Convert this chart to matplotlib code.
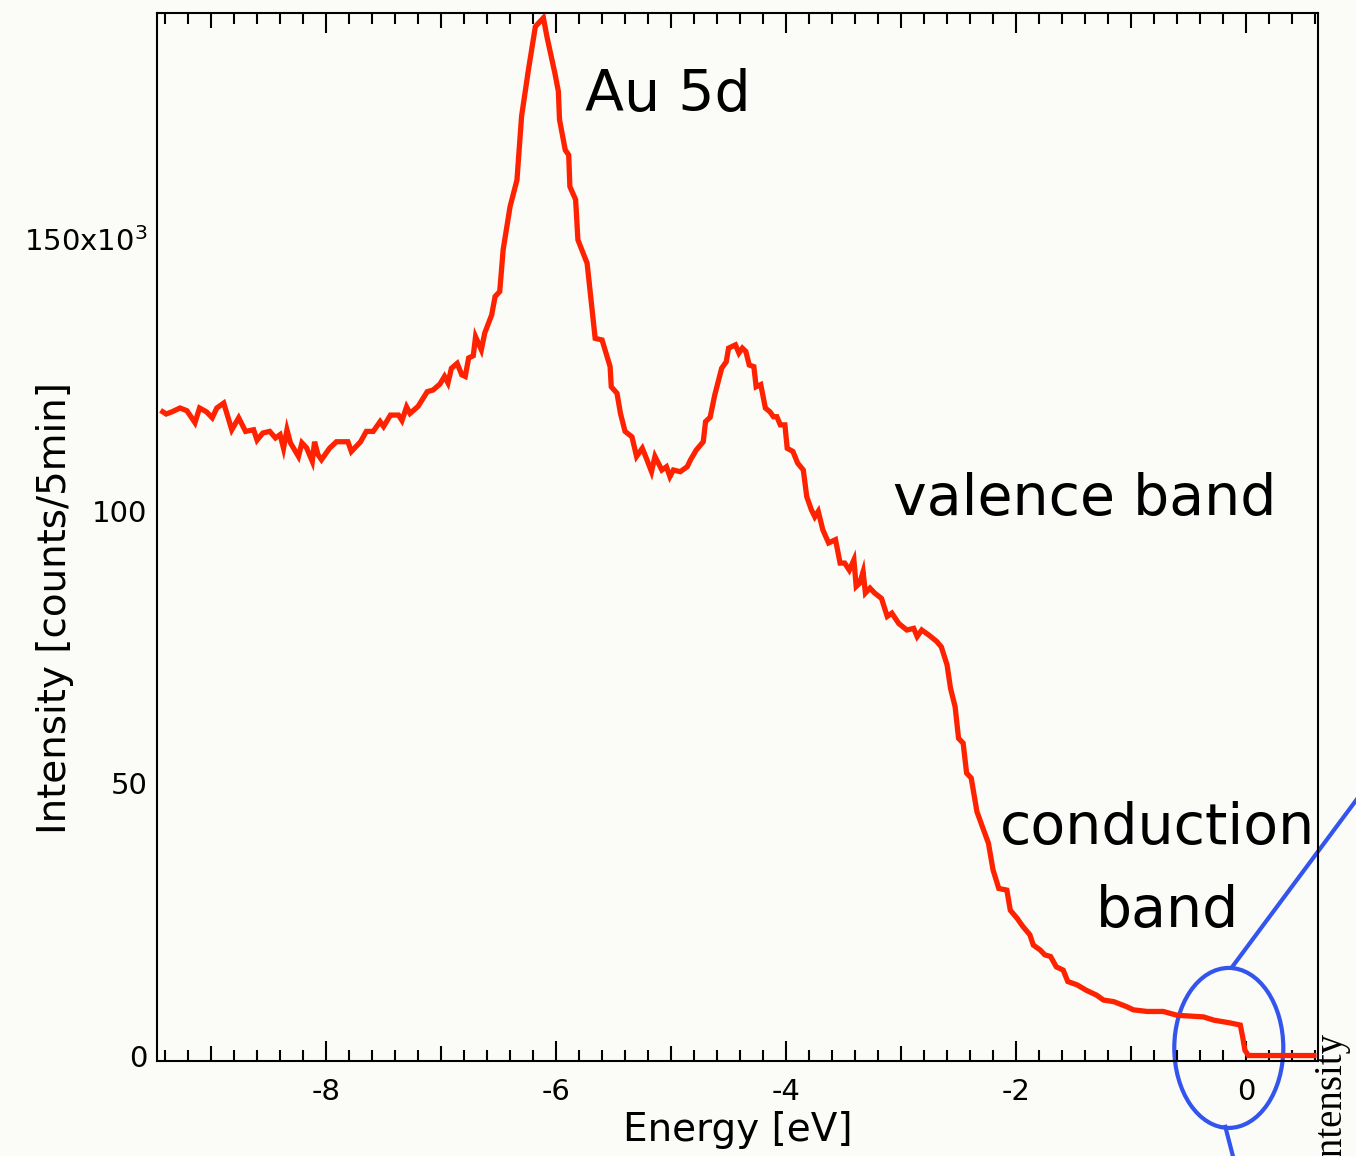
import matplotlib
matplotlib.use('Agg')
import matplotlib.pyplot as plt
from matplotlib.patches import Ellipse
from matplotlib.ticker import MultipleLocator, FuncFormatter

# photoemission spectrum: energy [eV], intensity [x10^3 counts/5min]
energy = [-9.42, -9.39, -9.34, -9.27, -9.21, -9.14, -9.10, -9.04, -8.99, -8.95,
          -8.89, -8.82, -8.76, -8.70, -8.63, -8.60, -8.55, -8.49, -8.44, -8.40,
          -8.37, -8.34, -8.31, -8.24, -8.21, -8.17, -8.12, -8.10, -8.07, -8.04,
          -7.97, -7.91, -7.81, -7.78, -7.70, -7.65, -7.59, -7.56, -7.53, -7.50,
          -7.44, -7.37, -7.34, -7.30, -7.27, -7.20, -7.12, -7.07, -7.01, -6.97,
          -6.94, -6.91, -6.86, -6.82, -6.79, -6.76, -6.72, -6.70, -6.65, -6.62,
          -6.56, -6.53, -6.49, -6.46, -6.40, -6.34, -6.30, -6.24, -6.18, -6.11,
          -6.08, -6.01, -5.98, -5.97, -5.92, -5.89, -5.88, -5.83, -5.81, -5.73,
          -5.66, -5.60, -5.53, -5.52, -5.47, -5.44, -5.40, -5.34, -5.30, -5.25,
          -5.21, -5.17, -5.14, -5.08, -5.04, -5.01, -4.98, -4.92, -4.86, -4.83,
          -4.78, -4.72, -4.70, -4.66, -4.62, -4.56, -4.52, -4.50, -4.44, -4.41,
          -4.38, -4.35, -4.32, -4.28, -4.26, -4.22, -4.18, -4.14, -4.11, -4.08,
          -4.05, -4.01, -3.99, -3.94, -3.90, -3.85, -3.82, -3.78, -3.75, -3.72,
          -3.68, -3.63, -3.57, -3.53, -3.49, -3.45, -3.41, -3.39, -3.36, -3.33,
          -3.31, -3.27, -3.23, -3.17, -3.12, -3.08, -3.02, -2.95, -2.89, -2.86,
          -2.82, -2.76, -2.69, -2.65, -2.60, -2.57, -2.53, -2.50, -2.46, -2.43,
          -2.39, -2.34, -2.24, -2.20, -2.15, -2.08, -2.05, -1.99, -1.94, -1.88,
          -1.85, -1.79, -1.75, -1.70, -1.65, -1.59, -1.55, -1.47, -1.39, -1.30,
          -1.24, -1.15, -1.04, -0.98, -0.86, -0.72, -0.60, -0.37, -0.28, -0.14,
          -0.05, -0.03, -0.01, 0.02, 0.59]
intensity = [118.3, 117.9, 118.3, 119.0, 118.5, 116.3, 119.0, 118.3, 117.2, 119.0,
             119.9, 115.0, 117.2, 114.7, 115.0, 113.1, 114.4, 114.7, 113.5, 114.1,
             111.6, 115.0, 112.6, 110.1, 112.6, 111.7, 109.2, 112.8, 110.4, 109.5,
             111.6, 112.8, 112.8, 111.0, 112.8, 114.7, 114.7, 115.6, 116.5, 115.6,
             117.7, 117.7, 116.7, 119.2, 118.0, 119.3, 122.0, 122.3, 123.4, 124.8,
             123.6, 126.3, 127.2, 125.1, 124.8, 128.2, 128.6, 132.1, 129.7, 132.8,
             136.1, 139.5, 140.4, 148.1, 156.0, 160.9, 172.6, 181.2, 189.1, 190.7,
             187.3, 180.5, 177.2, 172.0, 166.4, 165.5, 159.7, 157.3, 149.9, 145.6,
             131.8, 131.5, 126.6, 122.9, 121.7, 118.0, 114.7, 113.7, 110.1, 111.6,
             109.5, 107.3, 110.1, 107.6, 108.2, 106.4, 107.6, 107.3, 108.2, 109.5,
             111.3, 112.8, 116.5, 117.3, 121.4, 126.3, 127.5, 130.0, 130.6, 129.1,
             130.0, 129.4, 126.9, 126.6, 122.9, 123.3, 119.0, 118.3, 117.4, 117.4,
             115.9, 115.9, 111.6, 111.0, 108.9, 107.6, 102.7, 100.3, 99.0, 100.0,
             96.6, 94.2, 94.8, 90.5, 90.5, 89.2, 91.1, 86.2, 86.8, 88.9,
             85.0, 85.9, 85.0, 84.0, 80.7, 81.3, 79.4, 78.2, 78.5, 77.0,
             78.2, 77.3, 76.1, 75.1, 71.8, 67.5, 64.1, 58.3, 57.4, 51.9,
             51.0, 44.8, 39.0, 34.1, 30.7, 30.4, 26.7, 25.2, 23.7, 22.2,
             20.3, 19.4, 18.5, 18.2, 16.3, 15.7, 13.6, 13.0, 12.0, 11.1,
             10.2, 9.9, 9.0, 8.4, 8.1, 8.1, 7.4, 7.1, 6.5, 6.0,
             5.6, 3.5, 1.0, 0.0, 0.0]

ytick_vals = [0, 50, 100, 150]
ytick_labels = ['0', '50', '100', '150x10$^{3}$']

plt.rcParams['font.family'] = 'DejaVu Sans'
bg = '#fbfcf7'

fig = plt.figure(figsize=(13.56, 11.56), dpi=100, facecolor=bg)
ax = fig.add_axes([0.1158, 0.0822, 0.8562, 0.9066], facecolor=bg)

ax.plot(energy, intensity, color='#ff2200', lw=3.8, solid_joinstyle='miter')

ax.set_xlim(-9.47, 0.626)
ax.set_ylim(-1.0, 191.6)

for s in ax.spines.values():
    s.set_linewidth(1.5)

# x ticks: minor every 0.2, major every 1 (labels only on even values)
ax.xaxis.set_major_locator(MultipleLocator(1))
ax.xaxis.set_minor_locator(MultipleLocator(0.2))
ax.xaxis.set_major_formatter(FuncFormatter(lambda v, p: '%d' % round(v) if round(v) % 2 == 0 else ''))
ax.tick_params(axis='x', which='both', direction='in', top=True, bottom=True, width=1.5)
ax.tick_params(axis='x', which='major', length=10.8, labelsize=21, pad=12)
ax.tick_params(axis='x', which='minor', length=8)

ax.set_yticks(ytick_vals)
ax.set_yticklabels(ytick_labels)
ax.tick_params(axis='y', length=0, labelsize=21, pad=7)

# longer ticks on the labelled (even) values
locs = ax.xaxis.get_majorticklocs()
for t, loc in zip(ax.xaxis.get_major_ticks(), locs):
    if round(loc) % 2 == 0:
        t.tick1line.set_markersize(14.4)
        t.tick2line.set_markersize(14.4)

ax.set_xlabel('Energy [eV]', fontsize=28, labelpad=4)
ax.text(-0.088, 0.432, 'Intensity [counts/5min]', transform=ax.transAxes,
        rotation=90, ha='center', va='center', fontsize=28)

# annotations
ax.text(-5.75, 176.5, 'Au 5d', fontsize=41, ha='left', va='center')
ax.text(-3.07, 102.1, 'valence band', fontsize=41, ha='left', va='center')
ax.text(-2.14, 41.8, 'conduction', fontsize=41, ha='left', va='center')
ax.text(-0.68, 26.4, 'band', fontsize=41, ha='center', va='center')

# blue circle around the Fermi edge, with lines to the (cut off) zoom panel
blue = '#3355ee'
ax.add_patch(Ellipse((-0.15, 1.4), 0.948, 29.4, fill=False, ec=blue, lw=3, clip_on=False))
ax.plot([-0.12, 1.34], [16.3, 57.8], color=blue, lw=3, clip_on=False)
ax.plot([-0.18, -0.087], [-13.1, -20.7], color=blue, lw=3, clip_on=False)

# label of the neighbouring panel, cut by the figure edge as in the original
fig.text(0.9683, 0.1064, 'intensity', rotation=90, ha='left', va='top',
         fontsize=28, family='Liberation Serif')

fig.savefig('out.png', dpi=100, facecolor=bg)
